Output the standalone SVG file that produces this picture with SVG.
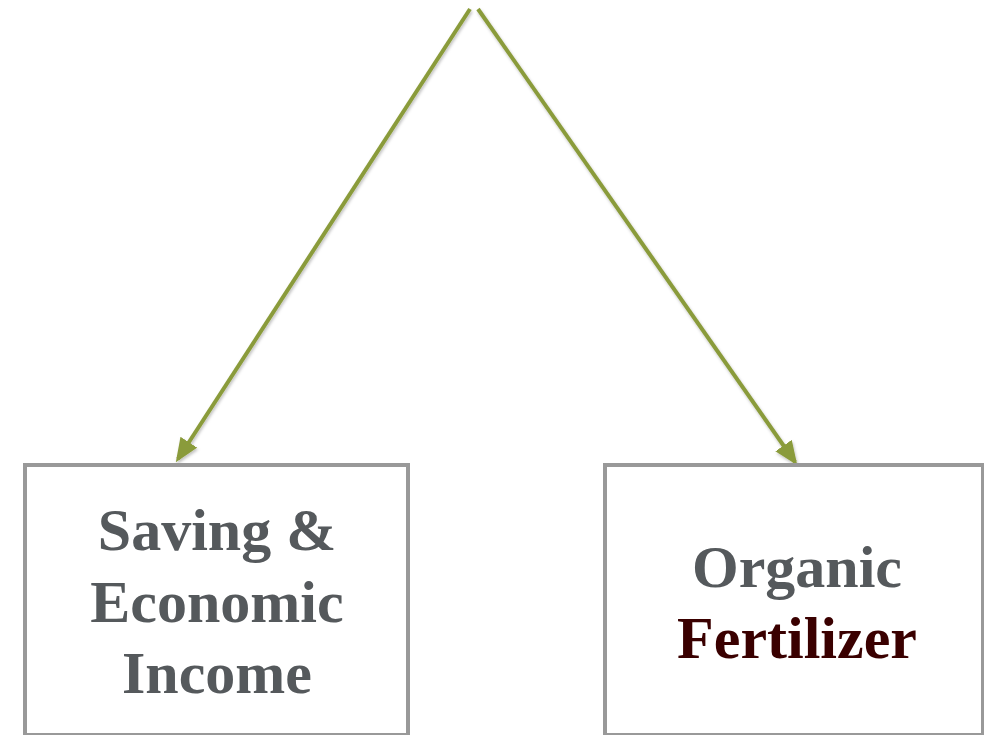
<svg xmlns="http://www.w3.org/2000/svg" width="984" height="735" viewBox="0 0 984 735">
<style>
.box{fill:#fff;stroke:#999;stroke-width:4}
.t{font-family:"Liberation Serif","Times New Roman",serif;font-weight:bold;font-size:60px;fill:#55595c;text-anchor:middle}
.dark{fill:#3a0000}
.con{stroke:#8a9b3a;stroke-width:4;fill:none;marker-end:url(#ah)}
</style>
<defs>
<marker id="ah" markerWidth="6" markerHeight="5" refX="5" refY="2.5" orient="auto" markerUnits="strokeWidth">
<path d="M0,0 L6,2.5 L0,5 Z" fill="#8a9b3a"/>
</marker>
<filter id="sh" x="-10%" y="-10%" width="120%" height="120%">
<feDropShadow dx="1" dy="2" stdDeviation="1.5" flood-color="#000" flood-opacity="0.25"/>
</filter>
</defs>
<g id="connectors" filter="url(#sh)">
<line class="con" x1="470" y1="9" x2="178" y2="459"/>
<line class="con" x1="478" y1="9" x2="795" y2="462"/>
</g>
<g id="node-saving">
<rect class="box" x="25" y="465" width="383" height="270"/>
<text class="t" x="217" y="550">Saving &amp;</text>
<text class="t" x="217" y="622">Economic</text>
<text class="t" x="217" y="693">Income</text>
</g>
<g id="node-organic">
<rect class="box" x="605" y="465" width="378" height="270"/>
<text class="t" x="797" y="587">Organic</text>
<text class="t dark" x="797" y="658">Fertilizer</text>
</g>
</svg>
